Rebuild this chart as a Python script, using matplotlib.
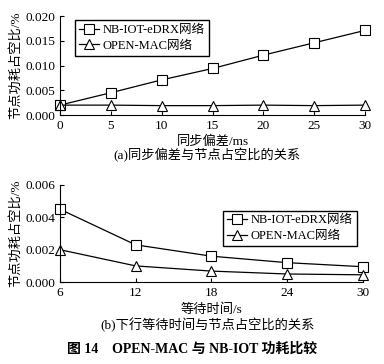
import matplotlib
matplotlib.use("Agg")
import matplotlib.pyplot as plt

plt.rcParams['font.family'] = ['Liberation Serif', 'Noto Sans CJK SC']
plt.rcParams['mathtext.fontset'] = 'stix'

# (a) 同步偏差
offset_ms = [0, 5, 10, 15, 20, 25, 30]
nb_a = [0.0020, 0.0045, 0.0071, 0.0094, 0.0121, 0.0146, 0.0171]
open_a = [0.0020, 0.0020, 0.0019, 0.0019, 0.0020, 0.0019, 0.0020]

# (b) 下行等待时间
wait_s = [6, 12, 18, 24, 30]
nb_b = [0.0045, 0.0023, 0.0016, 0.0012, 0.00095]
open_b = [0.0020, 0.0010, 0.00068, 0.0005, 0.00045]

lbl_nb = "NB-IOT-eDRX网络"
lbl_open = "OPEN-MAC网络"
ylab = "节点功耗占空比/%"

fig = plt.figure(figsize=(3.84, 3.64), dpi=100)
ax1 = fig.add_axes([0.156, 0.684, 0.795, 0.272])
ax2 = fig.add_axes([0.156, 0.225, 0.789, 0.267])

mk = dict(color="black", lw=0.9, markersize=6.5, markerfacecolor="white",
          markeredgewidth=0.8, clip_on=False)
leg = dict(fontsize=9, fancybox=False, edgecolor="black", framealpha=1,
           handlelength=1.6, handletextpad=0.3, borderpad=0.3, labelspacing=0.3)

ax1.plot(offset_ms, nb_a, marker="s", label=lbl_nb, **mk)
ax1.plot(offset_ms, open_a, marker="^", label=lbl_open, **mk)
ax1.set_xlim(0, 30)
ax1.set_ylim(0, 0.020)
ax1.set_xticks(offset_ms)
ax1.set_yticks([0, 0.005, 0.010, 0.015, 0.020])
ax1.set_yticklabels(["0.000", "0.005", "0.010", "0.015", "0.020"])
ax1.set_xlabel("同步偏差/ms", fontsize=9.5, labelpad=3)
ax1.set_ylabel(ylab, fontsize=9.5, labelpad=2)
ax1.legend(loc="upper left", bbox_to_anchor=(0.03, 1.02), **leg)
fig.text(0.54, 0.562, "(a)同步偏差与节点占空比的关系", ha="center", fontsize=9.5)

ax2.plot(wait_s, nb_b, marker="s", label=lbl_nb, **mk)
ax2.plot(wait_s, open_b, marker="^", label=lbl_open, **mk)
ax2.set_xlim(6, 30)
ax2.set_ylim(0, 0.006)
ax2.set_xticks(wait_s)
ax2.set_yticks([0, 0.002, 0.004, 0.006])
ax2.set_yticklabels(["0.000", "0.002", "0.004", "0.006"])
ax2.set_xlabel("等待时间/s", fontsize=9.5, labelpad=3)
ax2.set_ylabel(ylab, fontsize=9.5, labelpad=2)
ax2.legend(loc="upper right", bbox_to_anchor=(1.0, 0.8), **leg)
fig.text(0.54, 0.095, "(b)下行等待时间与节点占空比的关系", ha="center", fontsize=9.5)

for ax in (ax1, ax2):
    ax.spines["top"].set_visible(False)
    ax.spines["right"].set_visible(False)
    ax.tick_params(direction="in", length=3, labelsize=9.5, width=0.8)

fig.text(0.5, 0.03, "图 14　OPEN-MAC 与 NB-IOT 功耗比较", ha="center",
         fontsize=10, fontweight="bold")

fig.savefig("out.png", dpi=100)
